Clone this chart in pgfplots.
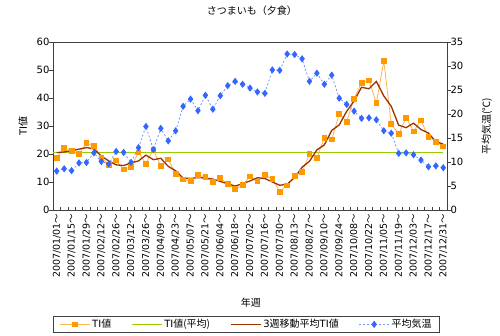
\documentclass[border=0pt]{standalone}
\usepackage{pgfplots}
\usepackage{pgfplotstable}
\pgfplotsset{compat=1.18}
\usepackage{fontspec}
\setmainfont{DejaVu Sans}
\newfontfamily\cjk{Noto Sans CJK JP}

\definecolor{tiorange}{HTML}{FF9900}
\definecolor{tiline}{HTML}{FFB54D}
\definecolor{avggreen}{HTML}{99CC00}
\definecolor{mabrown}{HTML}{993300}
\definecolor{tempblue}{HTML}{3366FF}
\definecolor{templine}{HTML}{6F97FF}
\definecolor{axgray}{HTML}{404040}

\pgfplotstableread{
i ti ma temp
0 18.7 20.50 8.1
1 22.3 20.73 8.6
2 21.2 21.20 8.2
3 20.1 21.73 9.8
4 23.9 22.30 9.9
5 22.9 21.83 11.9
6 18.7 19.27 10.1
7 16.2 17.53 9.6
8 17.7 16.13 12.2
9 14.5 15.87 12.0
10 15.4 16.83 9.9
11 20.6 17.53 13.0
12 16.6 19.60 17.4
13 21.6 17.97 12.6
14 15.7 18.47 17.0
15 18.1 15.60 14.4
16 13.0 14.00 16.5
17 10.9 11.43 21.6
18 10.4 11.27 23.1
19 12.5 11.57 20.7
20 11.8 11.40 23.9
21 9.9 11.03 21.0
22 11.4 10.20 23.8
23 9.3 9.37 25.9
24 7.4 8.53 26.8
25 8.9 9.43 26.2
26 12.0 10.37 25.4
27 10.2 11.53 24.6
28 12.4 11.23 24.3
29 11.1 10.03 29.2
30 6.6 8.83 29.1
31 8.8 9.23 32.5
32 12.3 11.57 32.4
33 13.6 15.27 31.5
34 19.9 17.40 26.8
35 18.7 21.47 28.5
36 25.8 23.23 26.2
37 25.2 28.43 28.1
38 34.3 30.37 23.3
39 31.6 35.23 22.0
40 39.8 38.93 20.6
41 45.4 43.83 19.1
42 46.3 43.30 19.2
43 38.2 45.90 18.8
44 53.2 40.73 16.5
45 30.8 37.03 16.0
46 27.1 30.30 11.8
47 33.0 29.40 11.9
48 28.1 31.03 11.5
49 32.0 28.73 10.4
50 26.1 27.50 9.0
51 24.4 24.40 9.2
52 22.7 23.55 8.8
}\data

\pgfplotsset{
  tistyle/.style={color=tiline, line width=0.8pt, mark=square*, mark size=2.4pt, mark options={fill=tiorange, draw=tiorange, solid}},
  avgstyle/.style={color=avggreen, line width=1pt, no marks},
  mastyle/.style={color=mabrown, line width=1.3pt, no marks},
  tempstyle/.style={color=templine, line width=0.8pt, dash pattern=on 2pt off 2pt, mark=diamond*, mark size=3pt, mark options={fill=tempblue, draw=tempblue, solid}},
  common/.style={
    scale only axis, width=394pt, height=168pt,
    at={(53pt,125pt)}, anchor=south west,
    xmin=-0.5, xmax=52.5,
    tick label style={font=\fontsize{10}{12}\selectfont},
    /pgf/number format/assume math mode=true,
    tick align=inside,
    axis line style={draw=axgray, line width=0.9pt},
    every tick/.style={draw=axgray, line width=0.7pt},
  },
}

\begin{document}
\begin{tikzpicture}
\path[use as bounding box] (0,0) rectangle (500pt,335pt);
\begin{axis}[
  common,
  ymin=0, ymax=60,
  ytick={0,10,...,60}, ytick pos=left,
  major tick length=4pt,
  major y tick style={xshift=-4pt},
  xtick={0,2,...,52},
  major x tick style={draw=none},
  minor xtick={-0.5,0.5,...,52.5},
  minor tick length=3pt,
  xtick pos=bottom,
  xticklabels={2007/01/01{\cjk ～},2007/01/15{\cjk ～},2007/01/29{\cjk ～},2007/02/12{\cjk ～},2007/02/26{\cjk ～},2007/03/12{\cjk ～},2007/03/26{\cjk ～},2007/04/09{\cjk ～},2007/04/23{\cjk ～},2007/05/07{\cjk ～},2007/05/21{\cjk ～},2007/06/04{\cjk ～},2007/06/18{\cjk ～},2007/07/02{\cjk ～},2007/07/16{\cjk ～},2007/07/30{\cjk ～},2007/08/13{\cjk ～},2007/08/27{\cjk ～},2007/09/10{\cjk ～},2007/09/24{\cjk ～},2007/10/08{\cjk ～},2007/10/22{\cjk ～},2007/11/05{\cjk ～},2007/11/19{\cjk ～},2007/12/03{\cjk ～},2007/12/17{\cjk ～},2007/12/31{\cjk ～}},
  x tick label style={rotate=90, anchor=east, font=\fontsize{9.5}{11}\selectfont},
  ylabel={TI{\cjk 値}},
  ylabel style={at={(axis description cs:-0.076,0.5)}, anchor=center, font=\fontsize{10}{12}\selectfont},
  xlabel={\cjk 年週},
  xlabel style={at={(axis description cs:0.5025,-0.554)}, anchor=center, font=\fontsize{10}{12}\selectfont},
  title={\cjk さつまいも（夕食）},
  title style={at={(axis description cs:0.505,1.149)}, anchor=center, font=\fontsize{10}{12}\selectfont},
]
\addplot[avgstyle] coordinates {(-0.5,20.7) (52,20.7)};
\addplot[tistyle] table[x=i,y=ti]{\data};
\addplot[mastyle] table[x=i,y=ma]{\data};
\end{axis}
\begin{axis}[
  common,
  clip=false,
  ymin=0, ymax=35,
  axis y line*=right, axis x line=none,
  ytick={0,5,...,35},
  major tick length=4pt,
  major y tick style={xshift=4pt},
  legend columns=4,
  legend style={at={(axis description cs:0,-0.631)}, anchor=north west, draw=axgray, line width=0.8pt, font=\fontsize{10}{12}\selectfont, inner xsep=6pt, inner ysep=1pt, /tikz/every even column/.append style={column sep=18pt}},
  legend image code/.code={\draw[mark repeat=2,mark phase=2] plot coordinates {(0pt,0pt) (15pt,0pt) (30pt,0pt)};},
]
\addlegendimage{tistyle}
\addlegendentry{TI{\cjk 値}}
\addlegendimage{avgstyle}
\addlegendentry{TI{\cjk 値(平均)}}
\addlegendimage{mastyle}
\addlegendentry{3{\cjk 週移動平均}TI{\cjk 値}}
\addplot[tempstyle] table[x=i,y=temp]{\data};
\addlegendentry{\cjk 平均気温}
\node[rotate=90, anchor=center, font=\fontsize{10}{12}\selectfont] at (axis description cs:1.1015,0.5) {\cjk 平均気温(℃)};
\end{axis}
\end{tikzpicture}
\end{document}
